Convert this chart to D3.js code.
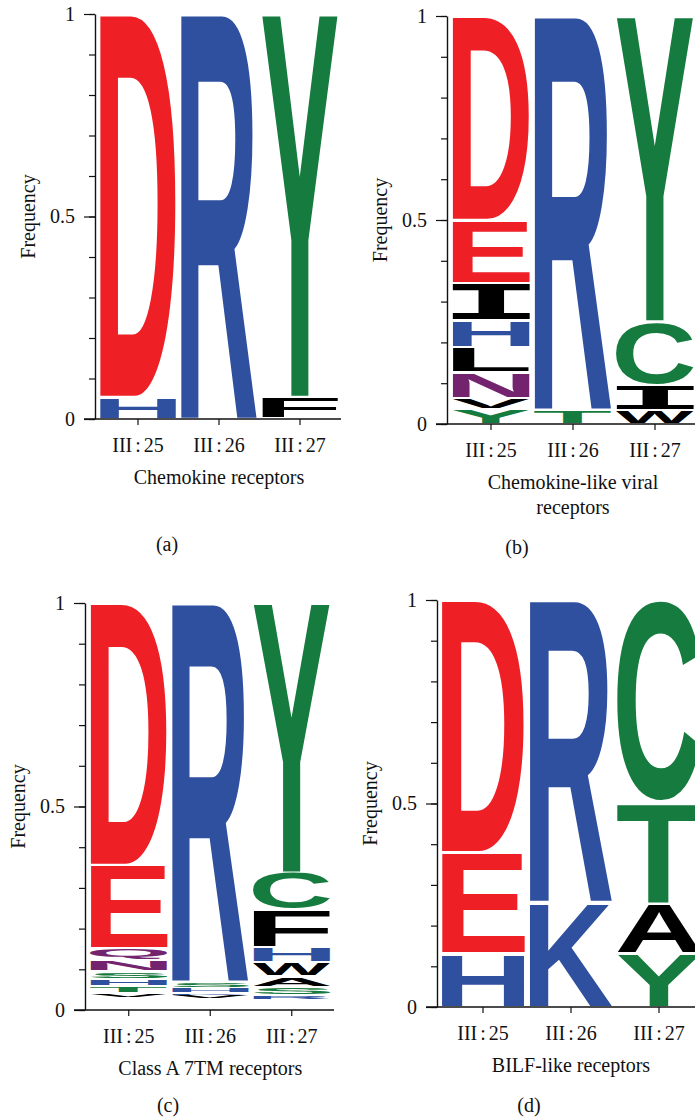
<!DOCTYPE html>
<html>
<head>
<meta charset="utf-8">
<script src="https://cdn.jsdelivr.net/npm/d3@7"></script>
<style>
  html, body { margin: 0; padding: 0; background: #fff; }
  svg { display: block; }
  .serif { font-family: "Liberation Serif", "Times New Roman", serif; font-size: 20px; fill: #111; }
</style>
</head>
<body>
<svg id="chart" width="695" height="1118"></svg>
<script>
// Residue positions along the helix (x-axis categories)
const positions = ["III:25", "III:26", "III:27"];
const yTicksMajor = [0, 0.5, 1];
const yTickLabels = ["0", "0.5", "1"];

// Residue frequencies per position, listed from the top of each stack down
const chemokine = [
  [["D", 0.946], ["H", 0.054]],
  [["R", 1.0]],
  [["Y", 0.946], ["F", 0.054]]
];
const viral = [
  [["D", 0.500], ["E", 0.154], ["I", 0.092], ["H", 0.066], ["L", 0.062], ["N", 0.062], ["V", 0.028], ["Y", 0.036]],
  [["R", 0.965], ["T", 0.035]],
  [["Y", 0.749], ["C", 0.156], ["I", 0.062], ["W", 0.033]]
];
const classA = [
  [["D", 0.644], ["E", 0.205], ["Q", 0.030], ["N", 0.027], ["S", 0.019], ["H", 0.017], ["T", 0.018], ["V", 0.010]],
  [["R", 0.931], ["S", 0.014], ["H", 0.013], ["K", 0.006], ["V", 0.009]],
  [["Y", 0.663], ["C", 0.092], ["F", 0.091], ["H", 0.037], ["W", 0.034], ["A", 0.026], ["S", 0.022], ["R", 0.009]]
];
const bilf = [
  [["D", 0.620], ["E", 0.249], ["H", 0.131]],
  [["R", 0.742], ["K", 0.258]],
  [["C", 0.495], ["T", 0.249], ["A", 0.125], ["Y", 0.131]]
];

// Chemistry colour scheme
const colorOf = ch => {
  if ("DE".includes(ch)) return "#ee2026";
  if ("KRH".includes(ch)) return "#2f4f9f";
  if ("NQ".includes(ch)) return "#74246f";
  if ("GSTYC".includes(ch)) return "#157b3e";
  return "#000000";
};

const panels = [
  { data: chemokine, title: ["Chemokine receptors"], tag: "(a)", axisX: 95, top: 14, bottom: 419, xRange: [97.5, 340.5], axisEnd: 341, tagPos: [167, 551] },
  { data: viral, title: ["Chemokine-like viral", "receptors"], tag: "(b)", axisX: 447, top: 16, bottom: 424, xRange: [450, 696], axisEnd: 700, tagPos: [517, 554] },
  { data: classA, title: ["Class A 7TM receptors"], tag: "(c)", axisX: 85, top: 603, bottom: 1010, xRange: [88, 332.5], axisEnd: 334, tagPos: [168, 1112] },
  { data: bilf, title: ["BILF-like receptors"], tag: "(d)", axisX: 437, top: 600, bottom: 1007, xRange: [439, 703], axisEnd: 705, tagPos: [529, 1112] }
];

const svg = d3.select("#chart");
svg.append("rect").attr("width", 695).attr("height", 1118).attr("fill", "#fff");

// Glyph fonts: bold sans for residues, a slab-style I with full-width bars
const SANS = "bold 100px 'Liberation Sans', Arial, sans-serif";
const SLAB_I = "bold 100px 'DejaVu Sans Mono', monospace";
const fontOf = ch => ch === "I" ? SLAB_I : SANS;

// Ink bounds of each glyph, so a letter can be stretched to fill its box exactly
const ctx = document.createElement("canvas").getContext("2d");
const inkCache = {};
function ink(ch) {
  if (!inkCache[ch]) {
    ctx.font = fontOf(ch);
    const m = ctx.measureText(ch);
    inkCache[ch] = {
      x0: -m.actualBoundingBoxLeft, x1: m.actualBoundingBoxRight,
      y0: -m.actualBoundingBoxAscent, y1: m.actualBoundingBoxDescent
    };
  }
  return inkCache[ch];
}

function drawLetter(g, ch, x, y, w, h) {
  if (h <= 0.2) return;
  const b = ink(ch);
  const sx = w / (b.x1 - b.x0), sy = h / (b.y1 - b.y0);
  g.append("text")
    .attr("x", 0).attr("y", 0)
    .style("font", fontOf(ch))
    .attr("fill", colorOf(ch))
    .attr("transform", `translate(${x},${y}) scale(${sx},${sy}) translate(${-b.x0},${-b.y0})`)
    .text(ch);
}

panels.forEach(p => {
  const g = svg.append("g");
  const y = d3.scaleLinear().domain([0, 1]).range([p.bottom, p.top]);
  const x = d3.scaleBand().domain(positions).range(p.xRange).paddingInner(0.05).paddingOuter(0.025);

  // Letter stacks
  const logo = g.append("g");
  p.data.forEach((stack, i) => {
    let cum = 1;
    stack.forEach(([ch, f]) => {
      const yTop = y(cum), yBot = y(cum - f);
      const slot = yBot - yTop;
      const inset = Math.min(1.3, slot * 0.18);
      drawLetter(logo, ch, x(positions[i]), yTop + inset, x.bandwidth(), slot - 2 * inset);
      cum -= f;
    });
  });

  // y axis: minor ticks every 0.1, longer labelled major ticks
  g.append("g")
    .attr("transform", `translate(${p.axisX},0)`)
    .call(d3.axisLeft(y).tickValues(d3.range(0, 1.0001, 0.1)).tickSize(6).tickSizeOuter(0).tickFormat(""))
    .call(a => a.selectAll("line").attr("stroke", "#111").attr("stroke-width", 1.2))
    .call(a => a.select(".domain").attr("stroke", "#111").attr("stroke-width", 1.4));
  g.append("g")
    .attr("transform", `translate(${p.axisX},0)`)
    .call(d3.axisLeft(y).tickValues(yTicksMajor).tickSize(11).tickPadding(9)
      .tickFormat((d, i) => yTickLabels[i]))
    .call(a => a.select(".domain").remove())
    .call(a => a.selectAll("line").attr("stroke", "#111").attr("stroke-width", 1.2))
    .call(a => a.selectAll("text").attr("class", "serif").attr("fill", "#111").attr("dy", "0.32em").style("font-size", "20px"));

  // x axis
  g.append("line")
    .attr("x1", p.axisX - 11).attr("x2", p.axisEnd)
    .attr("y1", p.bottom).attr("y2", p.bottom)
    .attr("stroke", "#111").attr("stroke-width", 1.4);
  const xa = g.append("g")
    .attr("transform", `translate(0,${p.bottom})`)
    .call(d3.axisBottom(x).tickSize(6).tickSizeOuter(0).tickFormat(""));
  xa.select(".domain").remove();
  xa.selectAll("line").attr("stroke", "#111").attr("stroke-width", 1.2);

  positions.forEach(pos => {
    const [roman, num] = pos.split(":");
    const t = g.append("text").attr("class", "serif")
      .attr("x", x(pos) + x.bandwidth() / 2).attr("y", p.bottom + 33)
      .attr("text-anchor", "middle");
    t.append("tspan").text(roman);
    t.append("tspan").attr("dx", 3).text(":");
    t.append("tspan").attr("dx", 3).text(num);
  });

  // Axis title
  g.append("text").attr("class", "serif")
    .attr("transform", `translate(${p.axisX - 60},${(p.top + p.bottom) / 2}) rotate(-90)`)
    .attr("text-anchor", "middle")
    .text("Frequency");

  // Group title below the axis, centred on the middle position
  const cx = x(positions[1]) + x.bandwidth() / 2;
  p.title.forEach((line, k) => {
    g.append("text").attr("class", "serif")
      .attr("x", cx).attr("y", p.bottom + 65 + k * 25)
      .attr("text-anchor", "middle")
      .text(line);
  });

  g.append("text").attr("class", "serif")
    .attr("x", p.tagPos[0]).attr("y", p.tagPos[1])
    .attr("text-anchor", "middle")
    .text(p.tag);
});
</script>
</body>
</html>
